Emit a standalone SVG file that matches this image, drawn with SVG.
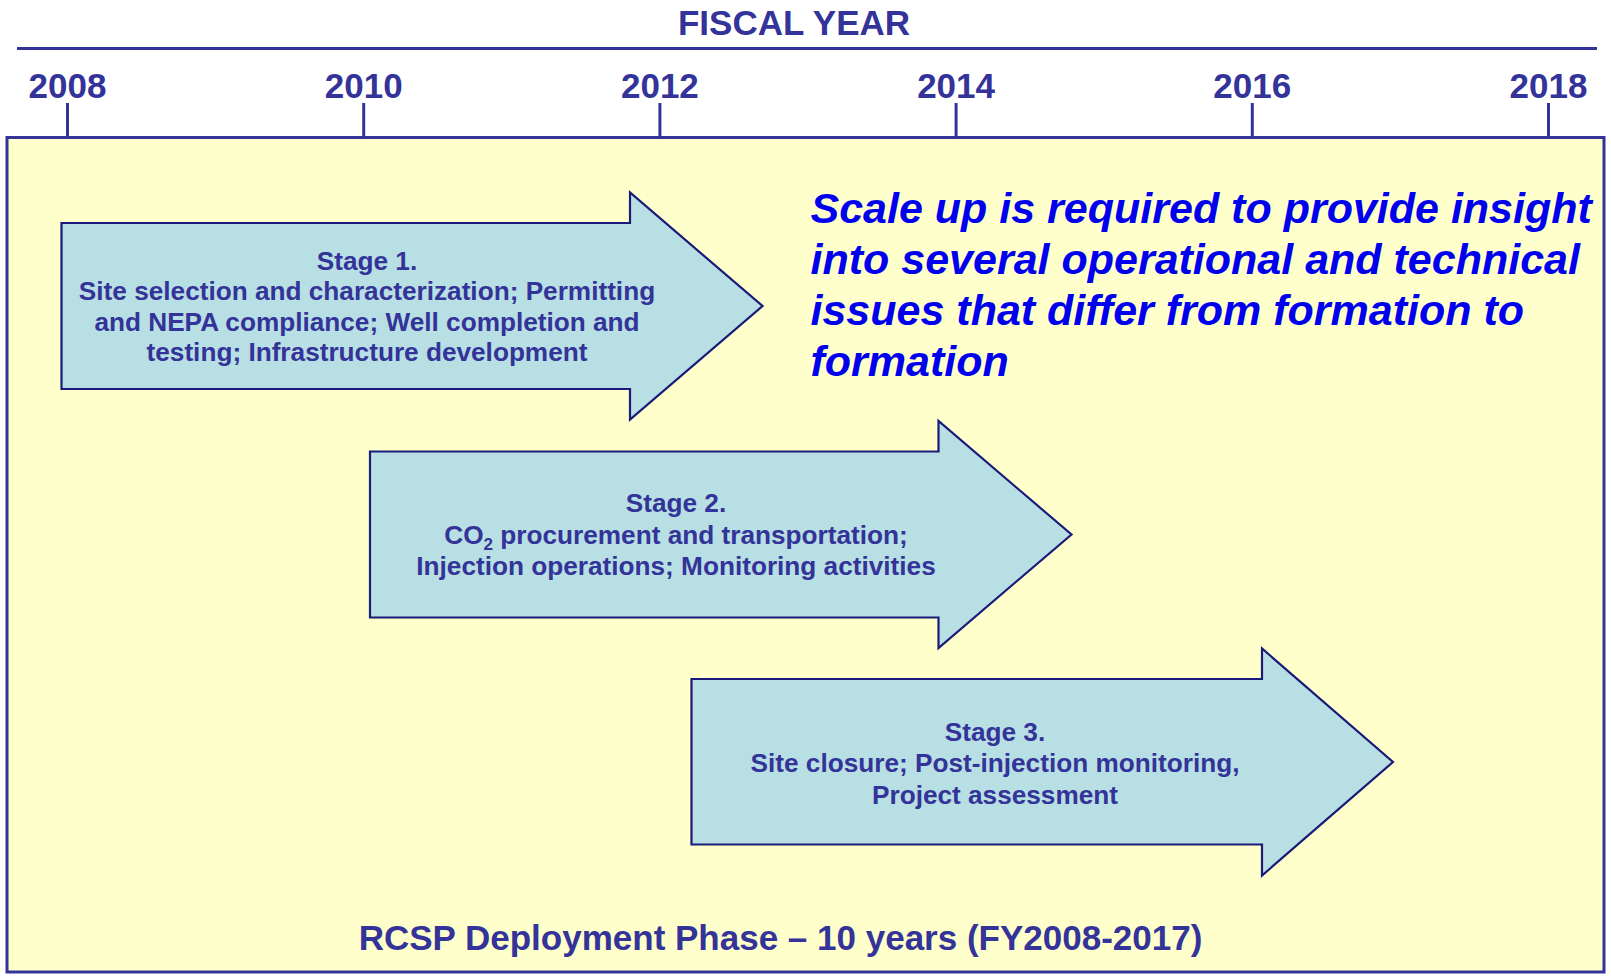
<svg xmlns="http://www.w3.org/2000/svg" width="1611" height="977" viewBox="0 0 1611 977">
<style>
.hdr{font-family:"Liberation Sans",Arial,sans-serif;font-weight:bold;fill:#333399}
.yr{font-size:35px;text-anchor:middle}
.line{stroke:#333399;stroke-width:3;fill:none}
.arrow{fill:#B8DFE3;stroke:#1a1a7a;stroke-width:2.2;stroke-linejoin:miter}
.atxt{font-family:"Liberation Sans",Arial,sans-serif;font-weight:bold;font-size:26.2px;fill:#333399;text-anchor:middle}
.note{font-family:"Liberation Sans",Arial,sans-serif;font-weight:bold;font-style:italic;font-size:43px;fill:#0000EE}
</style>
<rect width="1611" height="977" fill="#FFFFFF"/>
<g id="axis">
<text class="hdr" x="794" y="35" font-size="35" text-anchor="middle">FISCAL YEAR</text>
<line class="line" x1="17" y1="48.5" x2="1597" y2="48.5"/>
<text class="hdr yr" x="67.5" y="97.5">2008</text>
<text class="hdr yr" x="363.7" y="97.5">2010</text>
<text class="hdr yr" x="659.9" y="97.5">2012</text>
<text class="hdr yr" x="956.1" y="97.5">2014</text>
<text class="hdr yr" x="1252.3" y="97.5">2016</text>
<text class="hdr yr" x="1548.5" y="97.5">2018</text>
</g>
<g id="phase-box">
<rect x="7" y="137.5" width="1597" height="834.5" fill="#FFFFCC" stroke="#333399" stroke-width="3"/>
<text class="hdr" x="780.5" y="949.5" font-size="35" text-anchor="middle">RCSP Deployment Phase – 10 years (FY2008-2017)</text>
</g>
<g id="ticks">
<line class="line" x1="67.5" y1="103" x2="67.5" y2="137.5"/>
<line class="line" x1="363.7" y1="103" x2="363.7" y2="137.5"/>
<line class="line" x1="659.9" y1="103" x2="659.9" y2="137.5"/>
<line class="line" x1="956.1" y1="103" x2="956.1" y2="137.5"/>
<line class="line" x1="1252.3" y1="103" x2="1252.3" y2="137.5"/>
<line class="line" x1="1548.5" y1="103" x2="1548.5" y2="137.5"/>
</g>
<g id="stage1">
<path class="arrow" d="M61.5,223 L630,223 L630,192.5 L762.5,306 L630,419.5 L630,389 L61.5,389 Z"/>
<text class="atxt" x="367" y="269.5">Stage 1.</text>
<text class="atxt" x="367" y="300">Site selection and characterization; Permitting</text>
<text class="atxt" x="367" y="330.5">and NEPA compliance; Well completion and</text>
<text class="atxt" x="367" y="361">testing; Infrastructure development</text>
</g>
<g id="stage2">
<path class="arrow" d="M370,451.5 L938.5,451.5 L938.5,421 L1071.5,534.5 L938.5,648 L938.5,617.5 L370,617.5 Z"/>
<text class="atxt" x="676" y="512">Stage 2.</text>
<text class="atxt" x="676" y="543.5">CO<tspan font-size="17" dy="6">2</tspan><tspan dy="-6"> procurement and transportation;</tspan></text>
<text class="atxt" x="676" y="575">Injection operations; Monitoring activities</text>
</g>
<g id="stage3">
<path class="arrow" d="M691.5,679 L1262,679 L1262,648.5 L1393,762 L1262,875.5 L1262,844.5 L691.5,844.5 Z"/>
<text class="atxt" x="995" y="740.5">Stage 3.</text>
<text class="atxt" x="995" y="772">Site closure; Post-injection monitoring,</text>
<text class="atxt" x="995" y="803.5">Project assessment</text>
</g>
<g id="note">
<text class="note" x="810.5" y="223">Scale up is required to provide insight</text>
<text class="note" x="810.5" y="274">into several operational and technical</text>
<text class="note" x="810.5" y="325">issues that differ from formation to</text>
<text class="note" x="810.5" y="376">formation</text>
</g>
</svg>
